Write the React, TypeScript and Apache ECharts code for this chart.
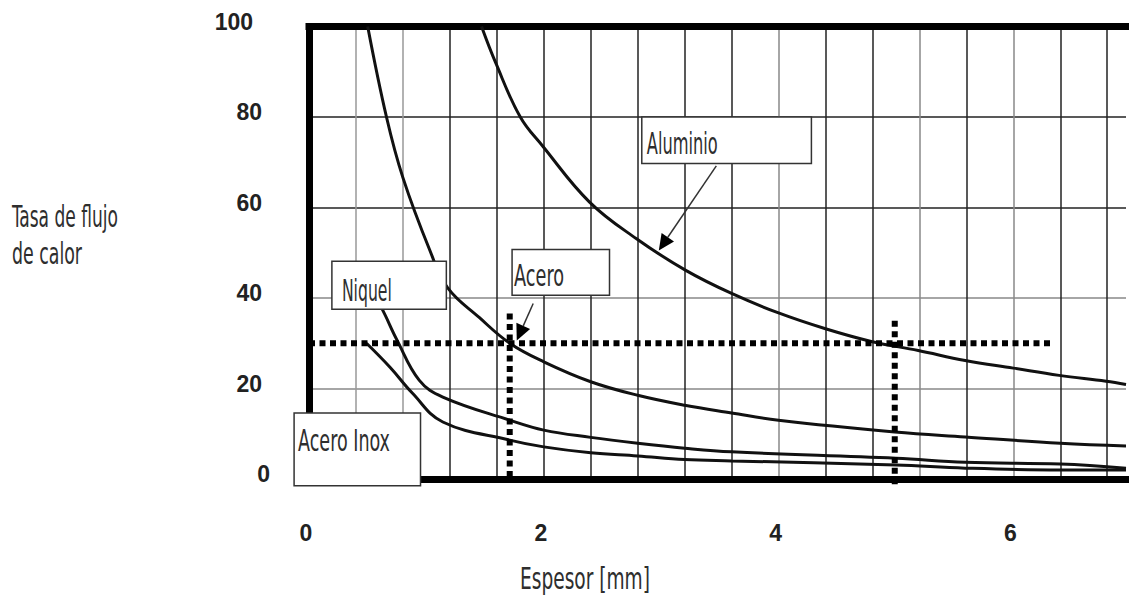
import React, { useEffect, useRef } from 'react';
import * as echarts from 'echarts';

// ---------- data ----------
const xTickLabels = ['0', '2', '4', '6'];
const yTickLabels = ['0', '20', '40', '60', '80', '100'];

const aluminio: [number, number][] = [
  [1.47, 100], [1.59, 92.0], [1.8, 80], [1.99, 73.6], [2.39, 61.2], [2.79, 53.1],
  [3.21, 46.1], [3.6, 41.0], [4.0, 36.7], [4.4, 33.2], [4.79, 30.4], [5.19, 28.4],
  [5.59, 26.2], [6.0, 24.5], [6.39, 22.9], [6.79, 21.6], [6.96, 20.9],
];
const acero: [number, number][] = [
  [0.5, 100], [0.66, 80], [0.8, 66.6], [1.03, 50.5], [1.18, 42.3], [1.45, 35.7],
  [1.71, 30.0], [2.0, 25.9], [2.4, 21.5], [2.8, 18.5], [3.2, 16.3], [3.6, 14.6],
  [4.0, 13.0], [4.99, 10.4], [5.59, 9.3], [6.4, 7.9], [6.96, 7.3],
];
const niquel: [number, number][] = [
  [0.52, 42], [0.62, 37.7], [0.75, 30.7], [0.94, 21.8], [1.14, 18.1], [1.71, 13.0],
  [2.0, 10.8], [2.4, 9.2], [2.8, 7.9], [3.2, 6.8], [3.6, 6.0], [5.0, 4.6],
  [5.59, 3.7], [6.4, 3.3], [6.96, 2.4],
];
const aceroInox: [number, number][] = [
  [0.49, 30], [0.69, 24.7], [0.88, 19.0], [1.14, 12.6], [1.71, 8.6], [2.0, 7.1],
  [2.4, 5.8], [2.8, 5.1], [3.2, 4.3], [3.6, 4.0], [5.0, 3.1], [5.59, 2.4],
  [6.4, 2.0], [6.96, 2.0],
];

// dotted reading guides
const guideH: [number, number][] = [[0, 30], [6.35, 30]];
const guideV1: [number, number][] = [[1.71, 36.6], [1.71, 0]];
const guideV2: [number, number][] = [[4.99, 35], [4.99, -1.5]];

// annotation texts
const labelTexts = ['Aluminio', 'Acero', 'Niquel', 'Acero Inox'];
const yAxisTitle = ['Tasa de flujo', 'de calor'];
const xAxisTitle = 'Espesor [mm]';

// ---------- layout (positions / sizes, not data) ----------
const X_MAX = 6.96;
// boxes in data units: [x0, yTop, x1, yBottom]
const labelBoxes: number[][] = [
  [2.835, 80.0, 4.28, 69.7],
  [1.73, 50.7, 2.56, 40.6],
  [0.195, 48.1, 1.17, 37.5],
  [-0.127, 14.6, 0.95, -1.5],
];
// text offset inside box (px): [padLeft, baselineFromTop, targetWidth]
const labelTextLayout: number[][] = [
  [5, 37, 71],
  [2, 37, 50],
  [10, 40, 50],
  [4, 38, 92],
];
// arrows: [fromX, fromY, tipX, tipY] in data units
const arrows: number[][] = [
  [3.47, 69.2, 2.98, 50.5],
  [1.91, 38.8, 1.77, 30.6],
];

const CONDENSED = '"Liberation Sans Narrow", "DejaVu Sans Condensed", "Open Sans", sans-serif';
const TEXT_SIZE = 31;
const NUM_FONT = 'Arial, "Liberation Sans", sans-serif';
const NUM_SIZE = 23;

const xGridColors = ['#333', '#999', '#999', '#222', '#222', '#222', '#222', '#222', '#222',
  '#222', '#888', '#222', '#222', '#888', '#222', '#888', '#222', '#222'];
const yGridColors = ['#333', '#888', '#888', '#222', '#222', '#333'];

function measure(text: string): number {
  const c = document.createElement('canvas').getContext('2d')!;
  c.font = `${TEXT_SIZE}px ${CONDENSED}`;
  return c.measureText(text).width || 1;
}

function textEl(text: string, left: number, baseline: number, target: number) {
  return {
    type: 'text',
    x: left,
    y: baseline - TEXT_SIZE * 0.36,
    scaleX: target / measure(text),
    z: 120,
    style: {
      text,
      fontSize: TEXT_SIZE,
      fontFamily: CONDENSED,
      fill: '#2e2e2e',
      align: 'left',
      verticalAlign: 'middle',
    },
  };
}

export default function App() {
  const ref = useRef<HTMLDivElement>(null);
  useEffect(() => {
    const chart = echarts.init(ref.current!, null, { renderer: 'svg' });

    const curveStyle = { color: '#111', width: 3 };
    const dotStyle = { color: '#000', width: 6, type: [6, 4.5], cap: 'butt' };
    const mkCurve = (name: string, data: [number, number][]) => ({
      type: 'line', name, data, smooth: 0.4, symbol: 'none',
      lineStyle: curveStyle, z: 3, silent: true,
    });
    const mkGuide = (data: [number, number][]) => ({
      type: 'line', data, symbol: 'none', lineStyle: dotStyle, z: 4, clip: false, silent: true,
    });
    const numStyle = (pad: number[]) => ({
      fontFamily: NUM_FONT, fontWeight: 'bold', fontSize: NUM_SIZE, color: '#222', padding: pad,
    });

    const option: any = {
      animation: false,
      backgroundColor: '#fff',
      grid: { left: 309, right: 0, top: 26.5, bottom: 120 },
      xAxis: [
        {
          type: 'value', min: 0, max: X_MAX, interval: 0.4, position: 'bottom',
          axisLine: { show: true, onZero: false, lineStyle: { color: '#000', width: 7, cap: 'square' } },
          axisTick: { show: false },
          axisLabel: {
            show: true, interval: 0, margin: 42,
            formatter: (v: number) => {
              const r = Math.round(v);
              if (Math.abs(v - r) < 1e-6 && r % 2 === 0) {
                const lbl = xTickLabels[r / 2];
                return lbl !== undefined ? `{x|${lbl}}` : '';
              }
              return '';
            },
            rich: { x: numStyle([0, 6, 0, 0]) },
          },
          splitLine: { show: true, showMaxLine: false, lineStyle: { color: xGridColors, width: 1.5 } },
        },
        {
          type: 'value', min: 0, max: X_MAX, position: 'top',
          axisLine: { show: true, onZero: false, lineStyle: { color: '#000', width: 7, cap: 'square' } },
          axisTick: { show: false }, axisLabel: { show: false }, splitLine: { show: false },
        },
      ],
      yAxis: {
        type: 'value', min: 0, max: 100, interval: 20,
        axisLine: { show: true, onZero: false, lineStyle: { color: '#000', width: 7, cap: 'square' } },
        axisTick: { show: false },
        axisLabel: {
          margin: 39,
          formatter: (v: number) => {
            const lbl = yTickLabels[Math.round(v / 20)];
            if (v === 0) return `{a|${lbl}}`;
            if (v === 100) return `{c|${lbl}}`;
            return `{b|${lbl}}`;
          },
          rich: {
            a: numStyle([0, 0, 10, 0]),
            b: numStyle([0, 8, 10, 0]),
            c: numStyle([0, 17, 10, 0]),
          },
        },
        splitLine: { show: true, lineStyle: { color: yGridColors, width: 1.5 } },
      },
      series: [
        mkCurve('Aluminio', aluminio),
        mkCurve('Acero', acero),
        mkCurve('Niquel', niquel),
        mkCurve('Acero Inox', aceroInox),
        mkGuide(guideH),
        mkGuide(guideV1),
        mkGuide(guideV2),
      ],
    };
    chart.setOption(option);

    const toPx = (p: number[]) => chart.convertToPixel({ seriesIndex: 0 }, p) as number[];
    const graphics: any[] = [];

    labelBoxes.forEach((b, i) => {
      const p0 = toPx([b[0], b[1]]);
      const p1 = toPx([b[2], b[3]]);
      graphics.push({
        type: 'rect', z: 110,
        shape: { x: p0[0], y: p0[1], width: p1[0] - p0[0], height: p1[1] - p0[1] },
        style: { fill: '#fff', stroke: '#333', lineWidth: 1.5 },
      });
      const t = labelTextLayout[i];
      graphics.push(textEl(labelTexts[i], p0[0] + t[0], p0[1] + t[1], t[2]));
    });

    arrows.forEach((a) => {
      const s = toPx([a[0], a[1]]);
      const tip = toPx([a[2], a[3]]);
      const dx = tip[0] - s[0];
      const dy = tip[1] - s[1];
      const len = Math.hypot(dx, dy) || 1;
      const ux = dx / len, uy = dy / len;
      const headL = 16, headW = 15;
      const bx = tip[0] - ux * headL, by = tip[1] - uy * headL;
      const px = -uy, py = ux;
      graphics.push({
        type: 'line', z: 115,
        shape: { x1: s[0], y1: s[1], x2: bx, y2: by },
        style: { stroke: '#333', lineWidth: 1.5 },
      });
      graphics.push({
        type: 'polygon', z: 115,
        shape: { points: [[tip[0], tip[1]], [bx + px * headW / 2, by + py * headW / 2], [bx - px * headW / 2, by - py * headW / 2]] },
        style: { fill: '#000' },
      });
    });

    graphics.push(textEl(yAxisTitle[0], 12, 227, 106));
    graphics.push(textEl(yAxisTitle[1], 12, 264, 70));
    graphics.push(textEl(xAxisTitle, 520, 590, 130));

    chart.setOption({ graphic: graphics });
    return () => chart.dispose();
  }, []);

  return (
    <div
      ref={ref}
      style={{ position: 'absolute', left: 0, top: 0, width: 1129, height: 599, background: '#fff' }}
    />
  );
}
